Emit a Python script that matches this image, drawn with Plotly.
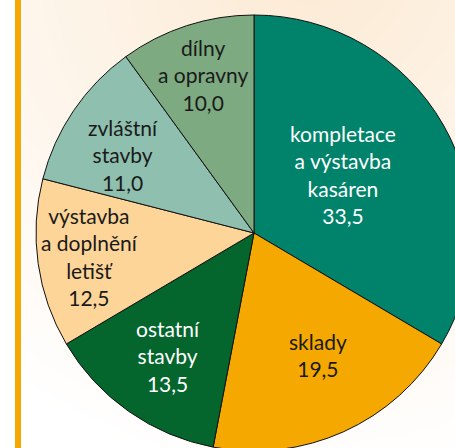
import numpy as np
import plotly.graph_objects as go

# Budget shares by construction category (percent)
categories = [
    "kompletace<br>a výstavba<br>kasáren",
    "sklady",
    "ostatní<br>stavby",
    "výstavba<br>a doplnění<br>letišť",
    "zvláštní<br>stavby",
    "dílny<br>a opravny",
]
shares = [33.5, 19.5, 13.5, 12.5, 11.0, 10.0]

slice_colors = ["#00836A", "#F5A800", "#04652D", "#FDD598", "#8FBFAF", "#7DAA80"]
label_colors = ["white", "#1a1a1a", "white", "#1a1a1a", "#1a1a1a", "#1a1a1a"]
# label placement: fraction of radius and angular nudge (degrees)
label_radius = [0.49, 0.63, 0.69, 0.76, 0.70, 0.76]
label_nudge = [-3.4, -3.4, 0.0, 0.0, -3.5, 0.0]

W, H = 472, 451          # canvas (right/bottom run past the viewport)
CX, CY, R = 254, 233, 218  # pie centre and radius in pixels

fig = go.Figure()

# soft warm background glow
gx = np.linspace(0, W, 80)
gy = np.linspace(0, H, 80)
XX, YY = np.meshgrid(gx, gy)
dist = np.sqrt((XX - 310) ** 2 + (YY + 40) ** 2)
glow = np.clip(1 - dist / 520, 0, 1)
glow[:, gx < 21] = 0
fig.add_trace(go.Heatmap(
    x=gx, y=gy, z=glow, zmin=0, zmax=1, zsmooth="best",
    colorscale=[[0, "#FFFFFF"], [1, "#FCEAD4"]], showscale=False, hoverinfo="skip",
))

fig.add_trace(go.Pie(
    values=shares,
    labels=[c.replace("<br>", " ") for c in categories],
    sort=False,
    direction="clockwise",
    rotation=0,
    marker=dict(colors=slice_colors, line=dict(color="#111111", width=1)),
    textinfo="none",
    hoverinfo="label+value",
    showlegend=False,
    domain=dict(x=[(CX - R) / W, (CX + R) / W], y=[1 - (CY + R) / H, 1 - (CY - R) / H]),
))

# labels at each slice's mid-angle
total = sum(shares)
cum = 0.0
for cat, v, col, rf, nd in zip(categories, shares, label_colors, label_radius, label_nudge):
    mid = (cum + v / 2) / total * 360 + nd
    cum += v
    a = np.radians(mid)
    px = CX + rf * R * np.sin(a)
    py = CY - rf * R * np.cos(a)
    text = f"{cat}<br>{v:.1f}".replace(".", ",")
    fig.add_annotation(
        x=px / W, y=1 - py / H, xref="paper", yref="paper",
        xanchor="center", yanchor="middle",
        text=text, showarrow=False, align="center",
        font=dict(family="Lato", size=21, color=col),
    )

# orange rule on the left edge
fig.add_shape(type="rect", xref="x", yref="y", x0=15, x1=21, y0=0, y1=H,
              fillcolor="#F5A800", line=dict(width=0), layer="above")

fig.update_xaxes(range=[0, W], visible=False, fixedrange=True)
fig.update_yaxes(range=[H, 0], visible=False, fixedrange=True)
fig.update_layout(
    width=W, height=H,
    margin=dict(l=0, r=0, t=0, b=0),
    paper_bgcolor="white", plot_bgcolor="white",
)

fig.write_html("out.html")
